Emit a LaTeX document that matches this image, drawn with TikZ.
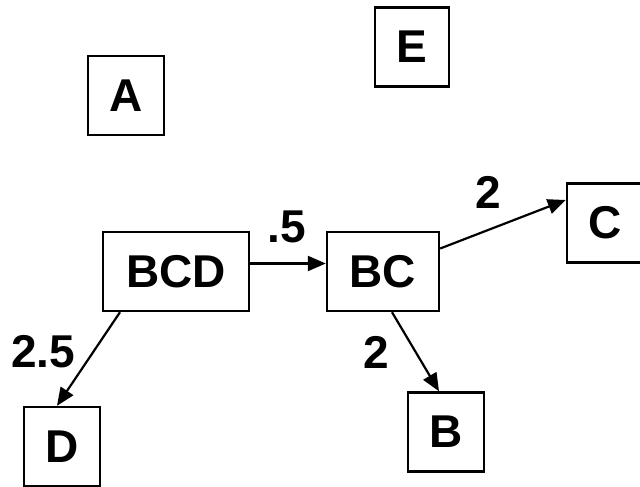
\documentclass[tikz,border=0pt]{standalone}
\usepackage{fontspec}
\setmainfont{Liberation Sans}
\usetikzlibrary{arrows.meta}
\usetikzlibrary{positioning}
\tikzset{
    box/.style={draw=black, line width=2.4pt, minimum height=79pt, inner sep=0pt,
        font=\fontsize{46}{54}\selectfont\bfseries},
    link/.style={draw=black, line width=2.2pt, -{Triangle[length=18pt,width=15pt]}},
    weight/.style={inner sep=0pt, font=\fontsize{46}{54}\selectfont\bfseries},
}

\begin{document}
\begin{tikzpicture}[x=1pt,y=-1pt]
\useasboundingbox (0,0) rectangle (640,487);
%LONE SETS
\node [box, minimum width=76pt] (A) at (126,95.5) {A};
\node [box, minimum width=74pt] (E) at (412,47) {E};

%SPLITS
\node [box, minimum width=146pt] (BCD) at (176,271.5) {BCD};
\node [box, minimum width=112pt] (BC) at (383,271.5) {BC};
\node [box, minimum width=76pt] (C) at (605,223) {C};
\node [box, minimum width=76pt] (D) at (62,446.5) {D};
\node [box, minimum width=76pt] (B) at (446,432) {B};

%ARROWS
\draw [link] ([yshift=8pt]BCD.east)--([yshift=8pt]BC.west);
	\node [weight] (w1) at (287,227) {.5};
\draw [link] ([yshift=23pt]BC.east)--([yshift=23pt]C.west);
	\node [weight] (w2) at (488,192) {2};
\draw [link] ([xshift=-56pt]BCD.south)--([xshift=-5pt]D.north);
	\node [weight] (w3) at (43,352) {2.5};
\draw [link] ([xshift=9pt]BC.south)--([xshift=-7pt]B.north);
	\node [weight] (w4) at (376,352) {2};
\end{tikzpicture}
\end{document}
